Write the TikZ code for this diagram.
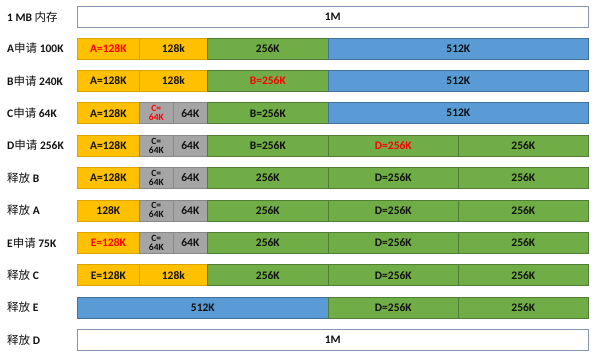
\documentclass[tikz,border=0pt]{standalone}
\usepackage{fontspec}
\setmainfont{Carlito}
\newfontfamily\cjk{Noto Sans CJK SC}
\definecolor{cOra}{HTML}{FFC000}
\definecolor{cOraD}{HTML}{D9A300}
\definecolor{cGry}{HTML}{A5A5A5}
\definecolor{cGryD}{HTML}{888888}
\definecolor{cGrn}{HTML}{70AD47}
\definecolor{cGrnD}{HTML}{507E32}
\definecolor{cBlu}{HTML}{5B9BD5}
\definecolor{cBluD}{HTML}{41719C}
\definecolor{cWhtD}{HTML}{8497B0}
\definecolor{cRed}{HTML}{FF0000}
\definecolor{cTxt}{HTML}{111111}
\newcommand\mseg[6]{\node[#5, minimum width={(#3-#2)*1pt}] (#1) at (#2,#4) {#6};}
\newcommand\lb[3]{\node[lbl] (#1) at (7,#2) {#3};}
\begin{document}
\begin{tikzpicture}[x=1pt,y=-1pt,
 seg/.style={draw, line width=0.7pt, inner sep=0pt, minimum height=21pt, anchor=west, text=cTxt,
   font=\bfseries\fontsize{11.5}{13}\selectfont},
 ora/.style={seg, fill=cOra, draw=cOraD},
 gry/.style={seg, fill=cGry, draw=cGryD},
 grn/.style={seg, fill=cGrn, draw=cGrnD},
 blu/.style={seg, fill=cBlu, draw=cBluD},
 wht/.style={seg, fill=white, draw=cWhtD},
 hot/.style={text=cRed},
 small/.style={font=\bfseries\fontsize{9.5}{9}\selectfont, align=center},
 lbl/.style={anchor=west, inner sep=0pt, text=cTxt, font=\fontsize{11.5}{13}\selectfont}]
\useasboundingbox (0,0) rectangle (602,361);
% labels
\lb{l0}{17}{\textbf{1 MB} {\cjk 内存}}
\lb{l1}{48.4}{\textbf{A}{\cjk 申请} \textbf{100K}}
\lb{l2}{80.8}{\textbf{B}{\cjk 申请} \textbf{240K}}
\lb{l3}{113.2}{\textbf{C}{\cjk 申请} \textbf{64K}}
\lb{l4}{145.6}{\textbf{D}{\cjk 申请} \textbf{256K}}
\lb{l5}{178}{{\cjk 释放} \textbf{B}}
\lb{l6}{210.4}{{\cjk 释放} \textbf{A}}
\lb{l7}{242.8}{\textbf{E}{\cjk 申请} \textbf{75K}}
\lb{l8}{275.2}{{\cjk 释放} \textbf{C}}
\lb{l9}{307.6}{{\cjk 释放} \textbf{E}}
\lb{l10}{340}{{\cjk 释放} \textbf{D}}
% row 0
\mseg{r0a}{77}{588}{17}{wht}{1M}
% row 1
\mseg{r1a}{77}{139}{48.4}{ora,hot}{A=128K}
\mseg{r1b}{139}{207}{48.4}{ora}{128k}
\mseg{r1c}{207}{328}{48.4}{grn}{256K}
\mseg{r1d}{328}{588}{48.4}{blu}{512K}
% row 2
\mseg{r2a}{77}{139}{80.8}{ora}{A=128K}
\mseg{r2b}{139}{207}{80.8}{ora}{128k}
\mseg{r2c}{207}{328}{80.8}{grn,hot}{B=256K}
\mseg{r2d}{328}{588}{80.8}{blu}{512K}
% row 3
\mseg{r3a}{77}{139}{113.2}{ora}{A=128K}
\mseg{r3b}{139}{173}{113.2}{gry,small,hot}{C=\\64K}
\mseg{r3c}{173}{207}{113.2}{gry}{64K}
\mseg{r3d}{207}{328}{113.2}{grn}{B=256K}
\mseg{r3e}{328}{588}{113.2}{blu}{512K}
% row 4
\mseg{r4a}{77}{139}{145.6}{ora}{A=128K}
\mseg{r4b}{139}{173}{145.6}{gry,small}{C=\\64K}
\mseg{r4c}{173}{207}{145.6}{gry}{64K}
\mseg{r4d}{207}{328}{145.6}{grn}{B=256K}
\mseg{r4e}{328}{458}{145.6}{grn,hot}{D=256K}
\mseg{r4f}{458}{588}{145.6}{grn}{256K}
% row 5
\mseg{r5a}{77}{139}{178}{ora}{A=128K}
\mseg{r5b}{139}{173}{178}{gry,small}{C=\\64K}
\mseg{r5c}{173}{207}{178}{gry}{64K}
\mseg{r5d}{207}{328}{178}{grn}{256K}
\mseg{r5e}{328}{458}{178}{grn}{D=256K}
\mseg{r5f}{458}{588}{178}{grn}{256K}
% row 6
\mseg{r6a}{77}{139}{210.4}{ora}{128K}
\mseg{r6b}{139}{173}{210.4}{gry,small}{C=\\64K}
\mseg{r6c}{173}{207}{210.4}{gry}{64K}
\mseg{r6d}{207}{328}{210.4}{grn}{256K}
\mseg{r6e}{328}{458}{210.4}{grn}{D=256K}
\mseg{r6f}{458}{588}{210.4}{grn}{256K}
% row 7
\mseg{r7a}{77}{139}{242.8}{ora,hot}{E=128K}
\mseg{r7b}{139}{173}{242.8}{gry,small}{C=\\64K}
\mseg{r7c}{173}{207}{242.8}{gry}{64K}
\mseg{r7d}{207}{328}{242.8}{grn}{256K}
\mseg{r7e}{328}{458}{242.8}{grn}{D=256K}
\mseg{r7f}{458}{588}{242.8}{grn}{256K}
% row 8
\mseg{r8a}{77}{139}{275.2}{ora}{E=128K}
\mseg{r8b}{139}{207}{275.2}{ora}{128k}
\mseg{r8c}{207}{328}{275.2}{grn}{256K}
\mseg{r8d}{328}{458}{275.2}{grn}{D=256K}
\mseg{r8e}{458}{588}{275.2}{grn}{256K}
% row 9
\mseg{r9a}{77}{328}{307.6}{blu}{512K}
\mseg{r9b}{328}{458}{307.6}{grn}{D=256K}
\mseg{r9c}{458}{588}{307.6}{grn}{256K}
% row 10
\mseg{r10a}{77}{588}{340}{wht}{1M}
\end{tikzpicture}
\end{document}
